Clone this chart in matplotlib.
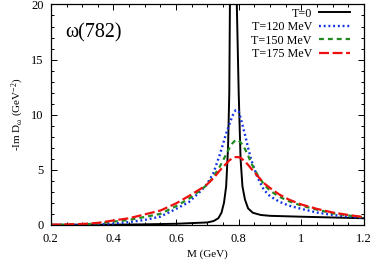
"""Omega(782) spectral function at several temperatures."""

import matplotlib

matplotlib.use("Agg")
import matplotlib.pyplot as plt
from matplotlib.ticker import FuncFormatter, MultipleLocator

plt.rcParams["font.family"] = ["Liberation Serif", "DejaVu Serif"]
plt.rcParams["mathtext.fontset"] = "custom"
plt.rcParams["mathtext.rm"] = "Liberation Serif"
plt.rcParams["mathtext.it"] = "Liberation Serif:italic"

# T = 0, narrow peak (goes far above the frame)
m_vac = [0.20, 0.40, 0.50, 0.60, 0.65, 0.70, 0.72, 0.735, 0.745, 0.753,
         0.760, 0.766, 0.770, 0.772, 0.776, 0.782, 0.788, 0.794, 0.800,
         0.806, 0.812, 0.820, 0.830, 0.845, 0.870, 0.90, 1.00, 1.10, 1.20]
im_vac = [0.0, 0.02, 0.05, 0.10, 0.16, 0.22, 0.35, 0.6, 1.1, 2.0,
          3.5, 7.0, 12.0, 20.0, 28.0, 40.0, 28.0, 20.0, 12.0,
          6.0, 3.5, 2.3, 1.5, 1.1, 0.9, 0.82, 0.74, 0.67, 0.60]

# finite temperature curves on a common mass grid
m_grid = [0.20, 0.25, 0.30, 0.35, 0.40, 0.45, 0.50, 0.55, 0.60, 0.64,
          0.68, 0.70, 0.72, 0.74, 0.76, 0.77, 0.78, 0.79, 0.80, 0.81,
          0.82, 0.83, 0.84, 0.86, 0.88, 0.90, 0.93, 0.96, 1.00, 1.05,
          1.10, 1.15, 1.20]
im_t120 = [0.0, 0.0, 0.01, 0.04, 0.12, 0.25, 0.45, 0.75, 1.45, 2.05,
           3.1, 3.75, 4.75, 6.4, 8.3, 9.1, 9.9, 10.4, 10.3, 9.3,
           8.2, 7.0, 5.9, 4.3, 3.2, 2.6, 2.1, 1.75, 1.45, 1.12,
           0.9, 0.75, 0.62]
im_t150 = [0.0, 0.01, 0.04, 0.12, 0.3, 0.45, 0.72, 1.0, 1.7, 2.35,
           3.2, 3.65, 4.4, 5.3, 6.4, 6.95, 7.4, 7.7, 7.65, 7.35,
           6.9, 6.3, 5.6, 4.55, 3.7, 3.1, 2.55, 2.15, 1.75, 1.38,
           1.05, 0.85, 0.68]
im_t175 = [0.02, 0.04, 0.08, 0.18, 0.4, 0.6, 0.95, 1.3, 1.95, 2.6,
           3.3, 3.7, 4.25, 4.95, 5.55, 5.85, 6.05, 6.15, 6.15, 6.0,
           5.75, 5.45, 5.1, 4.45, 3.8, 3.35, 2.75, 2.3, 1.85, 1.45,
           1.12, 0.9, 0.7]

fig = plt.figure(figsize=(3.74, 2.63), dpi=100)
ax = fig.add_axes([0.136, 0.145, 0.837, 0.838])

ax.plot(m_vac, im_vac, color="black", lw=1.4, label="T=0")
ax.plot(m_grid, im_t120, color="#1030e8", lw=1.7, linestyle=(0, (0.8, 1.2)),
        label="T=120 MeV")
ax.plot(m_grid, im_t150, color="#208a20", lw=1.6, linestyle=(0, (2.2, 1.8)),
        label="T=150 MeV")
ax.plot(m_grid, im_t175, color="#ee1010", lw=1.6, linestyle=(0, (4.5, 1.6)),
        label="T=175 MeV")

ax.set_xlim(0.2, 1.2)
ax.set_ylim(0, 20)
ax.xaxis.set_major_locator(MultipleLocator(0.2))
ax.xaxis.set_minor_locator(MultipleLocator(0.05))
ax.yaxis.set_major_locator(MultipleLocator(5))
ax.yaxis.set_minor_locator(MultipleLocator(1))
ax.xaxis.set_major_formatter(FuncFormatter(lambda v, p: f"{v:g}"))
ax.tick_params(which="both", direction="in", top=True, right=True,
               labelsize=9, width=0.7)
ax.tick_params(which="major", length=4.5)
ax.tick_params(which="minor", length=2.5)
ax.tick_params(axis="x", which="major", pad=6)
ax.tick_params(axis="y", which="major", pad=5)
for s in ax.spines.values():
    s.set_linewidth(0.9)

ax.set_xlabel("M (GeV)", fontsize=8, labelpad=3)
ax.set_ylabel("-Im D$_{\\mathrm{ω}}$ (GeV$^{-2}$)", fontsize=8, labelpad=4)

ax.text(0.045, 0.871, "ω(782)", transform=ax.transAxes, fontsize=14.4,
        ha="left", va="center")

ax.legend(loc="upper right", bbox_to_anchor=(0.963, 0.997), frameon=False,
          markerfirst=False, fontsize=8.7, handlelength=2.56,
          handletextpad=0.58, labelspacing=0.13, borderaxespad=0.0,
          borderpad=0.2)

fig.savefig("out.png", dpi=100)
